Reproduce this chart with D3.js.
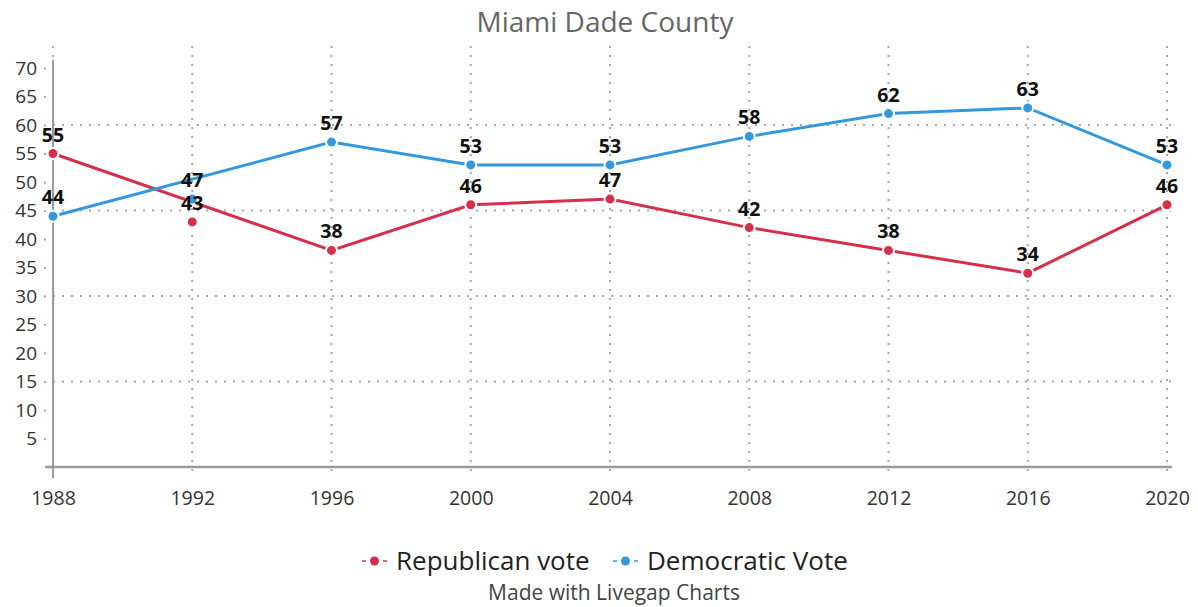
<!DOCTYPE html>
<html>
<head>
<meta charset="utf-8">
<script src="https://cdn.jsdelivr.net/npm/d3@7"></script>
<style>
  html, body { margin: 0; padding: 0; background: #fff; }
  svg { display: block; font-family: "Open Sans", "Noto Sans", sans-serif; }
</style>
</head>
<body>
<svg id="chart" width="1198" height="607"></svg>
<script>
// Election results, Miami-Dade County (share of vote, %)
const years = [1988, 1992, 1996, 2000, 2004, 2008, 2012, 2016, 2020];
const republican = [55, 43, 38, 46, 47, 42, 38, 34, 46];
const democratic = [44, 47, 57, 53, 53, 58, 62, 63, 53];
// years shown as markers only; the line runs straight past them
const markerOnlyYears = [1992];
const yTicks = [5, 10, 15, 20, 25, 30, 35, 40, 45, 50, 55, 60, 65, 70];
const yGrid = [15, 30, 45, 60];
const seriesNames = ["Republican vote", "Democratic Vote"];
const colors = ["#d3304b", "#3598dc"];

const svg = d3.select("#chart");

const x = d3.scalePoint().domain(years).range([53, 1167]);
const y = d3.scaleLinear().domain([0, 70]).range([467, 68]);

const axisColor = "#9a9a9a";
const gridColor = "#a8a8a8";

// title
svg.append("text")
  .attr("x", 605).attr("y", 32)
  .attr("text-anchor", "middle")
  .attr("font-size", 28)
  .attr("fill", "#666")
  .text("Miami Dade County");

// vertical dotted grid lines (one per year)
const grid = svg.append("g");
grid.selectAll("line.vg").data(years).join("line")
  .attr("x1", d => x(d)).attr("x2", d => x(d))
  .attr("y1", y(70) - 22).attr("y2", y(0) + 11)
  .attr("stroke", gridColor).attr("stroke-width", 2)
  .attr("stroke-dasharray", "2,7");

// horizontal dotted grid lines
grid.selectAll("line.hg").data(yGrid).join("line")
  .attr("x1", x(years[0])).attr("x2", x(years[years.length - 1]) + 4)
  .attr("y1", d => y(d)).attr("y2", d => y(d))
  .attr("stroke", gridColor).attr("stroke-width", 2)
  .attr("stroke-dasharray", "2,7");

// y axis
const yAxis = d3.axisLeft(y).tickValues(yTicks).tickSize(2).tickPadding(7);
const yg = svg.append("g").attr("transform", `translate(${x(years[0]) - 7},0)`).call(yAxis);
yg.select(".domain").remove();
yg.selectAll(".tick line").attr("stroke", gridColor).attr("stroke-width", 2);
yg.selectAll(".tick text")
  .attr("font-size", 19).attr("fill", "#333")
  .attr("font-family", "'Open Sans', sans-serif");

// x axis
const xAxis = d3.axisBottom(x).tickSize(0).tickPadding(24);
const xg = svg.append("g").attr("transform", `translate(0,${y(0)})`).call(xAxis);
xg.select(".domain").remove();
xg.selectAll(".tick text")
  .attr("font-size", 19.5).attr("fill", "#333")
  .attr("font-family", "'Open Sans', sans-serif");

// axis lines
svg.append("line")
  .attr("x1", x(years[0])).attr("x2", x(years[0]))
  .attr("y1", y(70) - 8).attr("y2", y(0) + 11)
  .attr("stroke", axisColor).attr("stroke-width", 2);
svg.append("line")
  .attr("x1", x(years[0]) - 8).attr("x2", x(years[years.length - 1]) + 5)
  .attr("y1", y(0)).attr("y2", y(0))
  .attr("stroke", axisColor).attr("stroke-width", 2.5);

// series
const series = [republican, democratic].map((vals, i) => ({
  name: seriesNames[i],
  color: colors[i],
  points: years.map((yr, j) => ({ year: yr, value: vals[j] }))
}));

const line = d3.line().x(d => x(d.year)).y(d => y(d.value));

const lines = svg.append("g");
series.forEach(s => {
  lines.append("path")
    .datum(s.points.filter(p => !markerOnlyYears.includes(p.year)))
    .attr("d", line)
    .attr("fill", "none")
    .attr("stroke", s.color)
    .attr("stroke-width", 3);
});

const dots = svg.append("g");
series.forEach(s => {
  dots.selectAll(null).data(s.points).join("circle")
    .attr("cx", d => x(d.year)).attr("cy", d => y(d.value))
    .attr("r", 5.5)
    .attr("fill", s.color)
    .attr("stroke", "#fff").attr("stroke-width", 2);
});

const labels = svg.append("g");
series.forEach(s => {
  labels.selectAll(null).data(s.points).join("text")
    .attr("x", d => x(d.year)).attr("y", d => y(d.value) - 12)
    .attr("text-anchor", "middle")
    .attr("font-size", 19.5).attr("font-weight", "bold")
    .attr("fill", "#111")
    .text(d => d.value);
});

// legend
const legend = svg.append("g");
const legendItems = [
  { name: seriesNames[0], color: colors[0], x: 362 },
  { name: seriesNames[1], color: colors[1], x: 613 }
];
legendItems.forEach(it => {
  const g = legend.append("g").attr("transform", `translate(${it.x},561)`);
  g.append("line").attr("x1", 0).attr("x2", 25).attr("y1", 0).attr("y2", 0)
    .attr("stroke", it.color).attr("stroke-width", 1.5).attr("stroke-dasharray", "4,3");
  g.append("rect").attr("x", 6).attr("y", -2).attr("width", 13).attr("height", 4).attr("fill", "#fff");
  g.append("circle").attr("cx", 12.5).attr("cy", 0).attr("r", 4.5).attr("fill", it.color);
  g.append("text").attr("x", 34).attr("y", 9)
    .attr("font-size", 26).attr("fill", "#222")
    .text(it.name);
});

// footer
svg.append("text")
  .attr("x", 614).attr("y", 600)
  .attr("text-anchor", "middle")
  .attr("font-size", 21).attr("fill", "#444")
  .text("Made with Livegap Charts");
</script>
</body>
</html>
